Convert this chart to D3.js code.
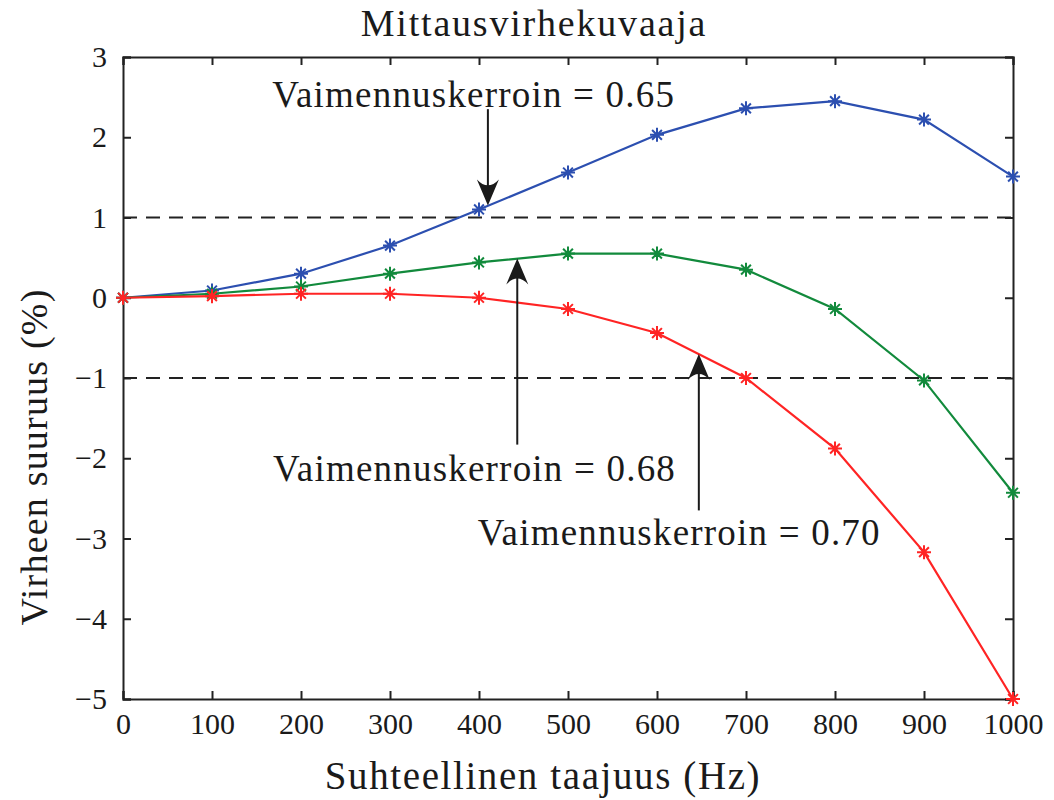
<!DOCTYPE html>
<html>
<head>
<meta charset="utf-8">
<script src="https://cdn.jsdelivr.net/npm/d3@7"></script>
<style>
  body { margin: 0; background: #fff; }
  text { font-family: "Liberation Serif", serif; fill: #1a1a1a; }
</style>
</head>
<body>
<svg id="chart"></svg>
<script>
var freqs = [0, 100, 200, 300, 400, 500, 600, 700, 800, 900, 1000];
var err065 = [0, 0.09, 0.30, 0.65, 1.10, 1.56, 2.03, 2.36, 2.45, 2.22, 1.51];
var err068 = [0, 0.05, 0.14, 0.30, 0.44, 0.55, 0.55, 0.35, -0.14, -1.03, -2.43];
var err070 = [0, 0.02, 0.05, 0.05, 0.00, -0.14, -0.44, -1.00, -1.88, -3.17, -5.00];
var xTicks = [0, 100, 200, 300, 400, 500, 600, 700, 800, 900, 1000];
var yTicks = [-5, -4, -3, -2, -1, 0, 1, 2, 3];
var limitLines = [1, -1];
var seriesLst = [["0.65", err065, "#2c4fb0"], ["0.68", err068, "#128a3c"], ["0.70", err070, "#ff2424"]];
// label text, arrow x (Hz), arrow start y, arrow tip y, text centre (Hz), text baseline (value)
var notes = [
  ["Vaimennuskerroin = 0.65", 410, 2.35, 1.15, 394, 2.38],
  ["Vaimennuskerroin = 0.68", 443, -1.83, 0.49, 395, -2.28],
  ["Vaimennuskerroin = 0.70", 647, -2.65, -0.7, 625, -3.08]
];

var W = 1054, H = 800;
var margin = {left: 123, right: 41, top: 57, bottom: 101};
var svg = d3.select("#chart").attr("width", W).attr("height", H);

var x = d3.scaleLinear().domain([0, 1000]).range([margin.left, W - margin.right]);
var y = d3.scaleLinear().domain([-5, 3]).range([H - margin.bottom, margin.top]);

var fmt = function(d){ return d < 0 ? "\u2212" + Math.abs(d) : String(d); };

// dashed limit lines
svg.selectAll(".limit").data(limitLines).enter().append("line")
  .attr("x1", x(0)).attr("x2", x(1000))
  .attr("y1", function(d){ return y(d); }).attr("y2", function(d){ return y(d); })
  .attr("stroke", "#222").attr("stroke-width", 1.8)
  .attr("stroke-dasharray", "14,9");

// axes with inward ticks on all sides
var axB = svg.append("g").attr("transform", "translate(0," + y(-5) + ")")
  .call(d3.axisBottom(x).tickValues(xTicks).tickSize(-8).tickPadding(14).tickFormat(fmt));
var axT = svg.append("g").attr("transform", "translate(0," + y(3) + ")")
  .call(d3.axisTop(x).tickValues(xTicks).tickSize(-8).tickFormat(""));
var axL = svg.append("g").attr("transform", "translate(" + x(0) + ",0)")
  .call(d3.axisLeft(y).tickValues(yTicks).tickSize(-8).tickPadding(16).tickFormat(fmt));
var axR = svg.append("g").attr("transform", "translate(" + x(1000) + ",0)")
  .call(d3.axisRight(y).tickValues(yTicks).tickSize(-8).tickFormat(""));
[axB, axT, axL, axR].forEach(function(a){
  a.select(".domain").attr("stroke", "#222").attr("stroke-width", 2);
  a.selectAll(".tick line").attr("stroke", "#222").attr("stroke-width", 2);
  a.selectAll(".tick text").style("font-family", "Liberation Serif").style("font-size", "30px").attr("fill", "#1a1a1a");
});

// series lines + asterisk markers
var line = d3.line().x(function(d){ return x(d[0]); }).y(function(d){ return y(d[1]); });
seriesLst.forEach(function(s){
  var pts = freqs.map(function(f, i){ return [f, s[1][i]]; });
  svg.append("path").datum(pts).attr("d", line)
    .attr("fill", "none").attr("stroke", s[2]).attr("stroke-width", 2.2);
  var r = 7;
  var star = "M0," + (-r) + "L0," + r +
    "M" + (-r) + ",0L" + r + ",0" +
    "M" + (-r*0.7) + "," + (-r*0.7) + "L" + (r*0.7) + "," + (r*0.7) +
    "M" + (-r*0.7) + "," + (r*0.7) + "L" + (r*0.7) + "," + (-r*0.7);
  svg.selectAll(null).data(pts).enter().append("path")
    .attr("d", star)
    .attr("transform", function(d){ return "translate(" + x(d[0]) + "," + y(d[1]) + ")"; })
    .attr("fill", "none").attr("stroke", s[2]).attr("stroke-width", 2);
});

// annotation arrows
notes.forEach(function(n){
  var ax = x(n[1]), y0 = y(n[2]), y1 = y(n[3]);
  var dir = y1 > y0 ? 1 : -1;
  svg.append("line").attr("x1", ax).attr("x2", ax).attr("y1", y0).attr("y2", y1 - dir * 10)
    .attr("stroke", "#1a1a1a").attr("stroke-width", 2);
  var hl = 26, hw = 11;
  var head = "M" + ax + "," + y1 +
    "L" + (ax - hw) + "," + (y1 - dir * hl) +
    "Q" + ax + "," + (y1 - dir * hl * 0.55) + " " + (ax + hw) + "," + (y1 - dir * hl) + "Z";
  svg.append("path").attr("d", head).attr("fill", "#1a1a1a");
  svg.append("text").attr("x", x(n[4])).attr("y", y(n[5]))
    .attr("text-anchor", "middle")
    .style("font-size", "37px").style("letter-spacing", "1.2px").text(n[0]);
});

// titles
svg.append("text").attr("x", (x(0) + x(1000)) / 2 - 34).attr("y", 36)
  .attr("text-anchor", "middle")
  .style("font-size", "38px").style("letter-spacing", "1.8px").text("Mittausvirhekuvaaja");
svg.append("text").attr("x", (x(0) + x(1000)) / 2 - 25).attr("y", 789)
  .attr("text-anchor", "middle")
  .style("font-size", "39px").style("letter-spacing", "1.6px").text("Suhteellinen taajuus (Hz)");
svg.append("text").attr("transform", "translate(47," + 457 + ") rotate(-90)")
  .attr("text-anchor", "middle")
  .style("font-size", "38px").style("letter-spacing", "1.2px").text("Virheen suuruus (%)");
</script>
</body>
</html>
